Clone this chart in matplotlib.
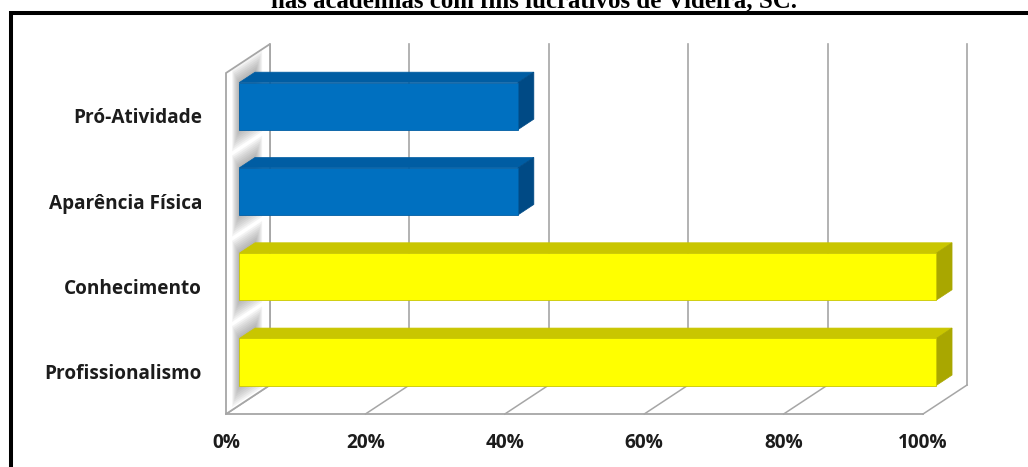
import matplotlib
matplotlib.use("Agg")
import matplotlib.pyplot as plt
from matplotlib.patches import Polygon
from matplotlib.lines import Line2D
import numpy as np

# dados do gráfico (de baixo para cima)
categorias = ["Profissionalismo", "Conhecimento", "Aparência Física", "Pró-Atividade"]
valores = [100, 100, 40, 40]
cores_frente = ["#FFFF00", "#FFFF00", "#0070C0", "#0070C0"]
cores_topo = ["#C9C600", "#C9C600", "#005DA3", "#005DA3"]
cores_lado = ["#A9A700", "#A9A700", "#004A85", "#004A85"]
ticks_x = [0, 20, 40, 60, 80, 100]
titulo = "nas academias com fins lucrativos de Videira, SC."

# geometria da projeção oblíqua (unidades: % no eixo x, categoria no eixo y)
PX_X = 6.97          # pixels por ponto percentual
PX_Y = 85.3          # pixels por categoria
X0_PX = 226          # 0% na frente
Y0_PX = 370.7        # categoria 0 na frente
DX = 44 / PX_X       # deslocamento de profundidade
DY = 29 / PX_Y
PISO = -0.508
TOPO = 3.49
D0, D1 = 0.30, 0.66  # profundidade das barras
H = 0.2755           # meia altura da barra
COR_GRADE = "#A6A6A6"


def proj(x, y, d):
    return (x + d * DX, y + d * DY)


fig = plt.figure(figsize=(10.28, 4.67), dpi=100)
ax = fig.add_axes([0, 0, 1, 1])
ax.set_xlim(-X0_PX / PX_X, (1028 - X0_PX) / PX_X)
ax.set_ylim((Y0_PX - 467) / PX_Y, Y0_PX / PX_Y)
ax.axis("off")

# parede do fundo: linhas de grade verticais
for v in ticks_x:
    a, b = proj(v, PISO, 1), proj(v, TOPO, 1)
    ax.plot([a[0], b[0]], [a[1], b[1]], color=COR_GRADE, lw=1.2, zorder=1)

# piso
for v in ticks_x:
    a, b = proj(v, PISO, 0), proj(v, PISO, 1)
    ax.plot([a[0], b[0]], [a[1], b[1]], color=COR_GRADE, lw=1.1, zorder=1)
a, b = proj(0, PISO, 0), proj(100, PISO, 0)
ax.plot([a[0], b[0]], [a[1], b[1]], color=COR_GRADE, lw=1.3, zorder=2)

# parede lateral
parede = [proj(0, PISO, 0), proj(0, TOPO, 0), proj(0, TOPO, 1), proj(0, PISO, 1)]
ax.add_patch(Polygon(parede, closed=True, facecolor="white", edgecolor=COR_GRADE,
                     lw=1.3, zorder=2))

# sombras das barras na parede
n_sombra = 8
for i in range(len(categorias)):
    for k in range(n_sombra):
        f = 1 - k / n_sombra
        md, my = 0.16 * f, 0.2 * f
        sombra = [proj(0, i - H - my, D0 - md), proj(0, i + H + my, D0 - md),
                  proj(0, i + H + my, D1 + md), proj(0, i - H - my, D1 + md)]
        ax.add_patch(Polygon(sombra, closed=True, facecolor="#707070",
                             edgecolor="none", alpha=0.08, zorder=3))

# barras 3D
for i, v in enumerate(valores):
    frente = [proj(0, i - H, D0), proj(v, i - H, D0), proj(v, i + H, D0), proj(0, i + H, D0)]
    topo = [proj(0, i + H, D0), proj(v, i + H, D0), proj(v, i + H, D1), proj(0, i + H, D1)]
    lado = [proj(v, i - H, D0), proj(v, i + H, D0), proj(v, i + H, D1), proj(v, i - H, D1)]
    ax.add_patch(Polygon(topo, closed=True, facecolor=cores_topo[i],
                         edgecolor=cores_topo[i], lw=0.5, zorder=4))
    ax.add_patch(Polygon(lado, closed=True, facecolor=cores_lado[i],
                         edgecolor=cores_lado[i], lw=0.5, zorder=4))
    ax.add_patch(Polygon(frente, closed=True, facecolor=cores_frente[i],
                         edgecolor=cores_topo[i], lw=0.6, zorder=5))

# rótulos
fonte = dict(family="Open Sans", weight="bold", size=13.7, color="#1C1C1C")
for i, nome in enumerate(categorias):
    ax.text(-3.44, i - 0.04, nome, ha="right", va="center", **fonte)
for v in ticks_x:
    ax.text(v, (Y0_PX - 443) / PX_Y, f"{v}%", ha="center", va="center", **fonte)

# título (cortado no topo) e moldura
fig.text(534 / 1028, 1 - 7 / 467, titulo, ha="center", va="baseline",
         family="Liberation Serif", weight="bold", size=17.9, color="black")
fig.add_artist(Line2D([10.5 / 1028, 10.5 / 1028, 1.05], [-0.05, 1 - 13 / 467, 1 - 13 / 467],
                      transform=fig.transFigure, color="black", lw=2.9,
                      solid_joinstyle="miter"))

fig.savefig("out.png", dpi=100)
